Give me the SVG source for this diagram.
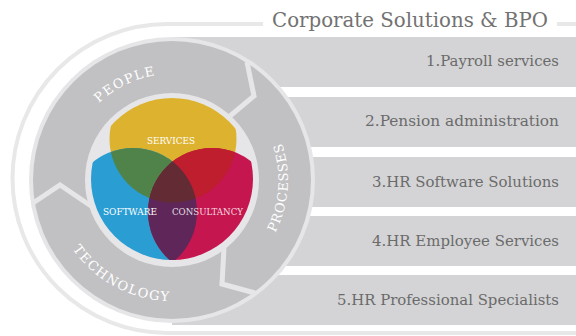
<svg xmlns="http://www.w3.org/2000/svg" width="576" height="336" viewBox="0 0 576 336">
<style>
.bar{fill:#d4d4d6}
.bt{font-family:"DejaVu Serif","Liberation Serif",serif;font-size:15px;fill:#6b6b6b;text-anchor:end}
.rt{font-family:"DejaVu Serif","Liberation Serif",serif;font-size:13px;fill:#ffffff;letter-spacing:1px}
.vt{font-family:"DejaVu Serif","Liberation Serif",serif;font-size:8.5px;fill:#ffffff;text-anchor:middle}
.sep{fill:none;stroke:#e6e6e8;stroke-width:5;stroke-linejoin:miter}
</style>
<defs>
<clipPath id="cv"><circle cx="172" cy="179" r="81"/></clipPath>
<clipPath id="cy"><circle cx="173" cy="139" r="63.5"/></clipPath>
<clipPath id="cb"><circle cx="133" cy="212" r="64"/></clipPath>
<path id="pPeople" d="M75.2,136.9 A106,106 0 0 1 197.6,77.1"/>
<path id="pProc" d="M255.4,260.6 A116,116 0 0 0 265.8,111.8"/>
<path id="pTech" d="M59.8,225.3 A121,121 0 0 0 197.2,298.4"/>
</defs>
<rect width="576" height="336" fill="#ffffff"/>
<g id="outline">
<path d="M263,24 H167 A154.5,154.5 0 0 0 167,333 H576" fill="none" stroke="#e8e8e9" stroke-width="4"/>
<line x1="557" y1="24" x2="576" y2="24" stroke="#e8e8e9" stroke-width="4"/>
</g>
<g id="title"><text x="272" y="27" textLength="276" lengthAdjust="spacingAndGlyphs" style="font-family:'DejaVu Serif','Liberation Serif',serif;font-size:20px;fill:#727272">Corporate Solutions &amp; BPO</text></g>
<g id="bar1"><rect class="bar" x="172" y="37" width="404" height="50"/><text class="bt" x="559" y="66" textLength="133" lengthAdjust="spacingAndGlyphs">1.Payroll services</text></g>
<g id="bar2"><rect class="bar" x="172" y="97" width="404" height="50"/><text class="bt" x="559" y="126" textLength="194" lengthAdjust="spacingAndGlyphs">2.Pension administration</text></g>
<g id="bar3"><rect class="bar" x="172" y="157" width="404" height="50"/><text class="bt" x="559" y="187" textLength="187" lengthAdjust="spacingAndGlyphs">3.HR Software Solutions</text></g>
<g id="bar4"><rect class="bar" x="172" y="216" width="404" height="50"/><text class="bt" x="559" y="246" textLength="187" lengthAdjust="spacingAndGlyphs">4.HR Employee Services</text></g>
<g id="bar5"><rect class="bar" x="172" y="275" width="404" height="50"/><text class="bt" x="559" y="305" textLength="222" lengthAdjust="spacingAndGlyphs">5.HR Professional Specialists</text></g>
<g id="ring">
<circle cx="172" cy="180" r="143" fill="#e6e6e8"/>
<circle cx="172" cy="180" r="139" fill="#c1c1c3"/>
<circle cx="172" cy="180" r="87" fill="#e6e6e8"/>
</g>
<g id="connectors">
<polyline class="sep" points="247,62 254,96 230,116"/>
<polyline class="sep" points="33,203 60,185 94,208"/>
<polyline class="sep" points="224,248 222,284 255,293"/>
</g>
<g id="people"><text class="rt" style="letter-spacing:1.5px"><textPath href="#pPeople" startOffset="50%" text-anchor="middle">PEOPLE</textPath></text></g>
<g id="processes"><text class="rt"><textPath href="#pProc" startOffset="50%" text-anchor="middle">PROCESSES</textPath></text></g>
<g id="technology"><text class="rt" style="letter-spacing:1.5px"><textPath href="#pTech" startOffset="50%" text-anchor="middle">TECHNOLOGY</textPath></text></g>
<g id="venn" clip-path="url(#cv)">
<circle cx="173" cy="139" r="63.5" fill="#ddb22f"/>
<circle cx="133" cy="212" r="64" fill="#2a9dd3"/>
<circle cx="212" cy="212" r="64" fill="#c6164f"/>
<g clip-path="url(#cy)">
<circle cx="133" cy="212" r="64" fill="#50834a"/>
<circle cx="212" cy="212" r="64" fill="#be1e2d"/>
</g>
<g clip-path="url(#cb)">
<circle cx="212" cy="212" r="64" fill="#5f2759"/>
<g clip-path="url(#cy)"><circle cx="212" cy="212" r="64" fill="#632b33"/></g>
</g>
</g>
<g id="services"><text class="vt" x="171" y="144" textLength="48" lengthAdjust="spacingAndGlyphs">SERVICES</text></g>
<g id="software"><text class="vt" x="130" y="215" textLength="54" lengthAdjust="spacingAndGlyphs">SOFTWARE</text></g>
<g id="consultancy"><text class="vt" x="207.5" y="215" textLength="71" lengthAdjust="spacingAndGlyphs" fill-opacity="0.85" style="fill-opacity:0.85">CONSULTANCY</text></g>
</svg>
